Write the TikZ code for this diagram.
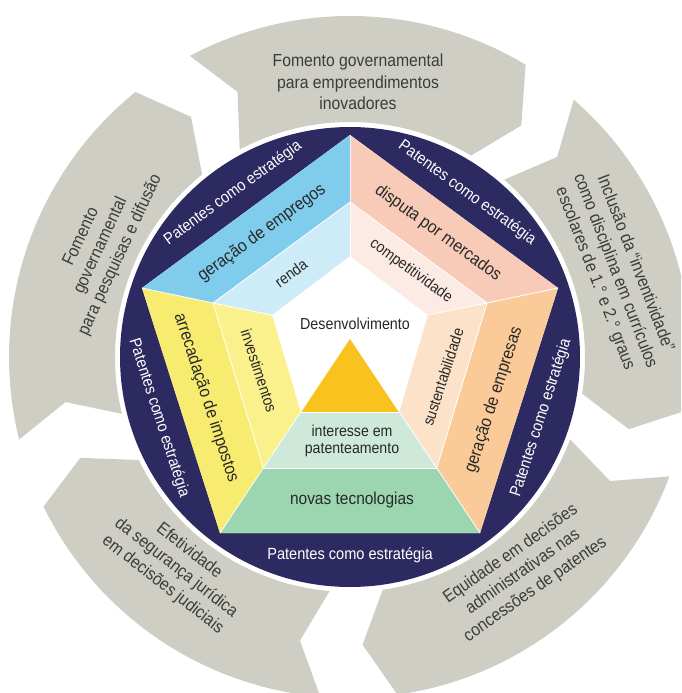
\documentclass[tikz,border=0pt]{standalone}
\usepackage{fontspec}
\setmainfont{Liberation Sans}[FakeStretch=0.9]
\definecolor{navy}{RGB}{44,42,96}
\definecolor{arrowgray}{RGB}{207,206,196}
\definecolor{blueO}{RGB}{128,204,236}
\definecolor{blueM}{RGB}{206,235,248}
\definecolor{pinkO}{RGB}{248,203,184}
\definecolor{pinkM}{RGB}{252,235,229}
\definecolor{orangeO}{RGB}{250,203,152}
\definecolor{orangeM}{RGB}{252,226,200}
\definecolor{yellowO}{RGB}{248,236,112}
\definecolor{yellowM}{RGB}{250,240,140}
\definecolor{gold}{RGB}{249,194,30}
\definecolor{greenL}{RGB}{206,233,218}
\definecolor{greenD}{RGB}{156,214,176}
\definecolor{txtgray}{RGB}{60,60,60}
\definecolor{txtdark}{RGB}{40,40,40}
\begin{document}
\begin{tikzpicture}[x=1pt,y=-1pt,
  graytxt/.style={font=\fontsize{17.5}{21.5}\selectfont, text=txtgray, align=center, inner sep=0pt},
  navytxt/.style={font=\fontsize{16.2}{19}\selectfont, text=white, inner sep=0pt},
  outertxt/.style={font=\fontsize{17.5}{20}\selectfont, text=txtdark, inner sep=0pt},
  midtxt/.style={font=\fontsize{15.6}{16.5}\selectfont, text=txtdark, align=center, inner sep=0pt},
  sep/.style={draw=white, line width=0.8pt}]
\useasboundingbox (0,0) rectangle (681,693);
\clip (0,0) rectangle (681,693);
% gray circular arrows (clockwise)
\foreach \t/\h in {118/59, 49/-9, -20.5/-82, -95/-154, -166/-231}{
  \fill[arrowgray] plot[domain=\t:\h, samples=60] ({350+341*cos(\x)},{357-341*sin(\x)})
    -- ({350+288*cos(\h-5.5)},{357-288*sin(\h-5.5)})
    -- plot[domain=\h:\t, samples=60] ({350+235*cos(\x)},{357-235*sin(\x)})
    -- ({350+288*cos(\t-5)},{357-288*sin(\t-5)}) -- cycle;
}
% navy disc
\fill[navy] (350,357) circle[radius=230];
% pentagon points
\coordinate (T0) at (350,135);
\coordinate (UL0) at (142,288);
\coordinate (UR0) at (558,288);
\coordinate (BL0) at (220,533);
\coordinate (BR0) at (480,533);
\coordinate (T1) at (350,202);
\coordinate (UL1) at (213,303);
\coordinate (UR1) at (487,303);
\coordinate (BL1) at (263.3,468);
\coordinate (BR1) at (436.7,468);
\coordinate (T2) at (350,256);
\coordinate (UL2) at (272,315);
\coordinate (UR2) at (428,315);
\coordinate (BL2) at (300.7,412);
\coordinate (BR2) at (399.3,412);
\coordinate (A) at (350,338);
\fill[white] (T0)--(UR0)--(BR0)--(BL0)--(UL0)--cycle;
\fill[blueO] (UL0)--(T0)--(T1)--(UL1)--cycle;
\fill[blueM] (UL1)--(T1)--(T2)--(UL2)--cycle;
\fill[pinkO] (T0)--(UR0)--(UR1)--(T1)--cycle;
\fill[pinkM] (T1)--(UR1)--(UR2)--(T2)--cycle;
\fill[yellowO] (UL0)--(UL1)--(BL1)--(BL0)--cycle;
\fill[yellowM] (UL1)--(UL2)--(BL2)--(BL1)--cycle;
\fill[orangeO] (UR0)--(BR0)--(BR1)--(UR1)--cycle;
\fill[orangeM] (UR1)--(UR2)--(BR2)--(BR1)--cycle;
\fill[greenD] (BL1)--(BR1)--(BR0)--(BL0)--cycle;
\fill[greenL] (BL2)--(BR2)--(BR1)--(BL1)--cycle;
\fill[gold] (A)--(BR2)--(BL2)--cycle;
% white separators
\draw[sep] (T0)--(T1)--(T2);
\draw[sep] (UL0)--(UL1)--(UL2);
\draw[sep] (UR0)--(UR1)--(UR2);
\draw[sep] (UL1)--(T1)--(UR1);
\draw[sep] (UL1)--(BL1);
\draw[sep] (UR1)--(BR1);
\draw[sep] (BL1)--(BR1);
\draw[sep] (BL2)--(BR2);
\draw[sep] (A)--(BL0);
\draw[sep] (A)--(BR0);
% navy band labels
\node[navytxt, rotate=36] (p1) at (233,193) {Patentes como estratégia};
\node[navytxt, rotate=-36] (p2) at (467,193) {Patentes como estratégia};
\node[navytxt, rotate=72] (p3) at (541,418) {Patentes como estratégia};
\node[navytxt, rotate=-72] (p4) at (159,418) {Patentes como estratégia};
\node[navytxt] (p5) at (350,555) {Patentes como estratégia};
% outer band labels
\node[outertxt, rotate=36] (o1) at (262,233) {geração de empregos};
\node[outertxt, rotate=-36] (o2) at (438,233) {disputa por mercados};
\node[outertxt, rotate=-72] (o3) at (206,398) {arrecadação de impostos};
\node[outertxt, rotate=72] (o4) at (494,400) {geração de empresas};
% middle band labels
\node[midtxt, rotate=36] (m1) at (291,273) {renda};
\node[midtxt, rotate=-36] (m2) at (411,271) {competitividade};
\node[midtxt, rotate=-72] (m3) at (259,371) {investimentos};
\node[midtxt, rotate=72] (m4) at (443,377) {sustentabilidade};
% centre
\node[midtxt, font=\fontsize{15.9}{18}\selectfont] (dev) at (355,324) {Desenvolvimento};
\node[midtxt, font=\fontsize{15.7}{16.5}\selectfont] (int) at (352,441) {interesse em\\patenteamento};
\node[outertxt, font=\fontsize{17.2}{20}\selectfont] (nov) at (352,500) {novas tecnologias};
% gray arrow labels
\node[graytxt] (g1) at (358,82) {Fomento governamental\\para empreendimentos\\inovadores};
\node[graytxt, rotate=65] (g2) at (101,246) {Fomento\\governamental\\para pesquisas e difusão};
\node[graytxt, rotate=-69] (g3) at (615,271) {Inclusão da “inventividade”\\como disciplina em currículos\\escolares de 1.° e 2.° graus};
\node[graytxt, rotate=35] (g4) at (523,572) {Equidade em decisões\\administrativas nas\\concessões de patentes};
\node[graytxt, rotate=-38] (g5) at (176,568) {Efetividade\\da segurança jurídica\\em decisões judiciais};
\end{tikzpicture}
\end{document}
